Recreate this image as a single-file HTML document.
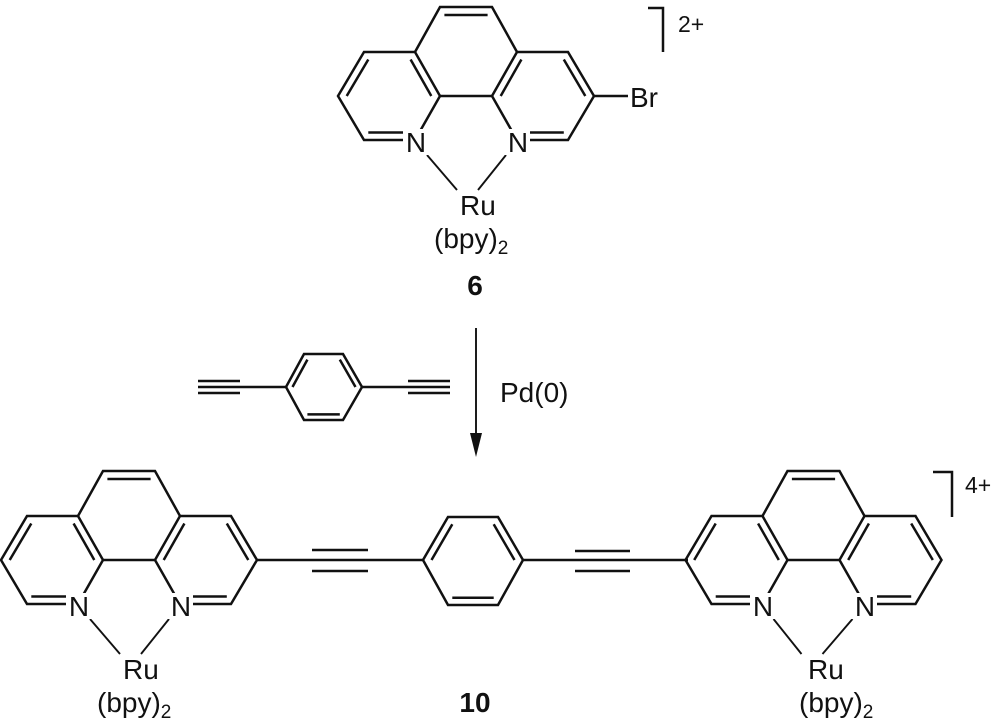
<!DOCTYPE html>
<html><head><meta charset="utf-8"><style>
html,body{margin:0;padding:0;background:#fff;}
svg{display:block;}
text{font-family:"Liberation Sans",Arial,sans-serif;fill:#111;}
</style></head><body>
<svg width="1000" height="724" viewBox="0 0 1000 724" xmlns="http://www.w3.org/2000/svg">
<defs>
<g id="ph" stroke="#111" stroke-width="2.5" fill="none" stroke-linejoin="miter">
  <path d="M415,52 L364,52 L338,96 L364,140 L415,140 L440,96 Z"/>
  <path d="M415,52 L440,7 L492,7 L517,52"/>
  <path d="M517,52 L568,52 L594,96 L568,140 L517,140 L492,96 Z"/>
  <path d="M440,96 L492,96"/>
  <path d="M444.4,15 L487.6,15"/>
  <path d="M410.6,59.5 L431.3,96"/>
  <path d="M368.3,59.5 L346.7,96"/>
  <path d="M368.3,132.5 L404,132.5"/>
  <path d="M500.7,96 L521.4,59.5"/>
  <path d="M563.8,59.5 L585.3,96"/>
  <path d="M528,132.5 L563.8,132.5"/>
  <path d="M427,155 L457,190" stroke-width="1.9"/>
  <path d="M506,155 L478,190" stroke-width="1.9"/>
</g>
</defs>

<use href="#ph"/>
<line x1="594" y1="96" x2="628" y2="96" stroke="#111" stroke-width="2.5"/>
<path d="M648,8 L663,8 L663,52" stroke="#111" stroke-width="2.5" fill="none"/>
<g font-size="28">
<rect x="403" y="129" width="26" height="26" fill="#fff"/>
<rect x="504" y="129" width="26" height="26" fill="#fff"/>
<text x="416" y="152" text-anchor="middle">N</text>
<text x="518" y="152" text-anchor="middle">N</text>
<text x="630" y="107">Br</text>
<text x="460" y="215">Ru</text>
<text x="434" y="248">(bpy)<tspan font-size="19" dy="6">2</tspan></text>
<text x="475" y="295" text-anchor="middle" font-weight="bold">6</text>
<text x="678" y="32" font-size="23">2+</text>
</g>

<line x1="476" y1="328" x2="476" y2="440" stroke="#111" stroke-width="1.9"/>
<path d="M470,433 L482,433 L476,457 Z" fill="#111"/>
<text x="500" y="402" font-size="28">Pd(0)</text>
<g stroke="#111" stroke-width="2.5" fill="none">
  <path d="M198,387 L286,387 M198,381 L240,381 M198,393 L240,393"/>
  <path d="M286,387 L304,354 L343,354 L362,387 L343,420 L304,420 Z"/>
  <path d="M292.5,387 L307.4,359.6 M339.8,359.6 L355.5,387 M307.4,414.4 L339.8,414.4"/>
  <path d="M362,387 L450,387 M408,381 L450,381 M408,393 L450,393"/>
</g>

<use href="#ph" transform="translate(-337,464)"/>
<use href="#ph" transform="matrix(-1,0,0,1,1279.5,464)"/>
<g stroke="#111" stroke-width="2.5" fill="none">
  <path d="M257,560 L423,560 M312,550 L368,550 M312,571 L368,571"/>
  <path d="M423,560 L448,517 L498,517 L523,560 L498,605 L448,605 Z"/>
  <path d="M431.5,560 L452.3,524.3 M493.7,524.3 L514.5,560 M452.3,597.7 L493.7,597.7"/>
  <path d="M523,560 L688,560 M575,551 L630,551 M575,571 L630,571"/>
  <path d="M933,472 L952,472 L952,517"/>
</g>
<g font-size="28">
<rect x="66" y="593" width="26" height="26" fill="#fff"/>
<rect x="167" y="593" width="26" height="26" fill="#fff"/>
<text x="79" y="616" text-anchor="middle">N</text>
<text x="181" y="616" text-anchor="middle">N</text>
<text x="123" y="679">Ru</text>
<text x="97" y="712">(bpy)<tspan font-size="19" dy="6">2</tspan></text>

<rect x="750" y="593" width="26" height="26" fill="#fff"/>
<rect x="851" y="593" width="26" height="26" fill="#fff"/>
<text x="763" y="616" text-anchor="middle">N</text>
<text x="865" y="616" text-anchor="middle">N</text>
<text x="808" y="679">Ru</text>
<text x="799" y="712">(bpy)<tspan font-size="19" dy="6">2</tspan></text>

<text x="475" y="712" text-anchor="middle" font-weight="bold">10</text>
<text x="965" y="493" font-size="23">4+</text>
</g>
</svg>
</body></html>
